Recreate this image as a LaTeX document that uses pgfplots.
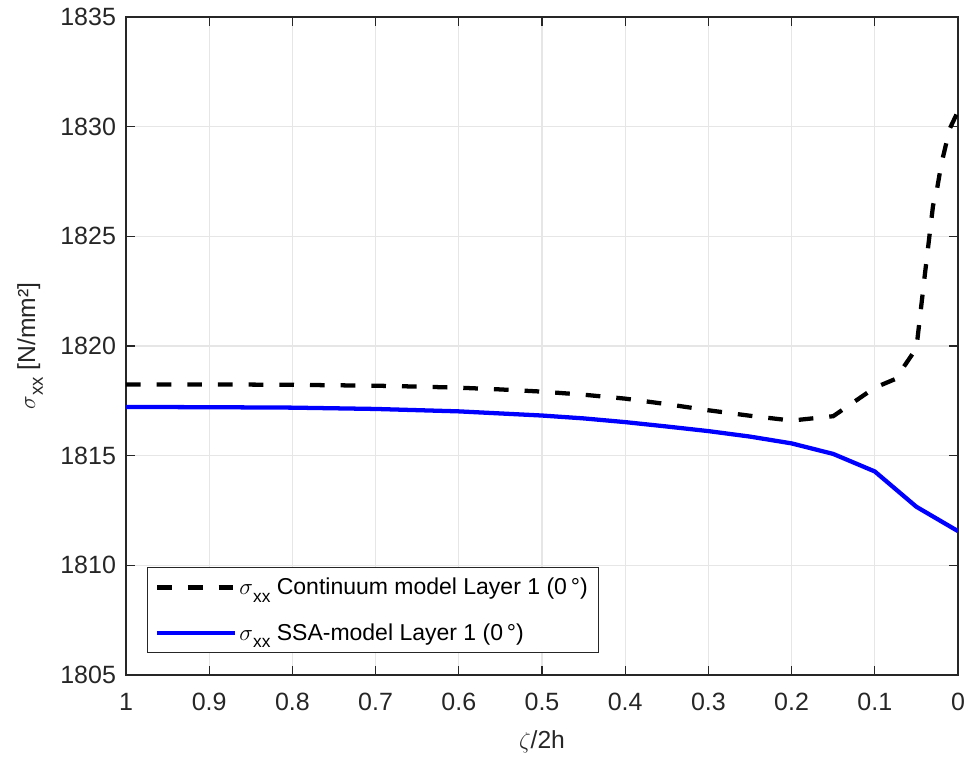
\documentclass[border=0pt]{standalone}
\usepackage{amsmath}
\usepackage{fontspec}
\setmainfont{Liberation Sans}
\usepackage{pgfplots}
\pgfplotsset{compat=1.18}
\definecolor{axgray}{HTML}{262626}
\definecolor{gridgray}{HTML}{E6E6E6}
\newcommand{\sxx}[1]{$\sigma$\raisebox{-0.6ex}{\fontsize{#1}{#1}\selectfont xx}}
\begin{document}
\begin{tikzpicture}
\useasboundingbox (-94.5pt,-62.25pt) rectangle (630.75pt,506.25pt);
\begin{axis}[
  scale only axis,
  width=624pt, height=493.5pt,
  x dir=reverse,
  xmin=0, xmax=1, ymin=1805, ymax=1835,
  xtick={0,0.1,...,1}, ytick={1805,1810,...,1835},
  grid=major,
  major grid style={gridgray, line width=0.8pt},
  axis line style={axgray, line width=0.8pt},
  tick style={axgray, line width=0.8pt},
  major tick length=6.5pt,
  tick align=inside,
  xtick pos=both, ytick pos=both,
  /pgf/number format/assume math mode=true,
  /pgf/number format/1000 sep={},
  tick label style={font=\fontsize{18.75}{21}\selectfont, text=axgray},
  xticklabel style={yshift=-10pt},
  yticklabel style={xshift=-4pt},
  xlabel={$\zeta$/2h},
  ylabel={\sxx{14} [N/mm²]},
  label style={font=\fontsize{18.5}{21}\selectfont, text=axgray},
  xlabel style={at={(axis description cs:0.5,-0.102)}, anchor=center},
  ylabel style={at={(axis description cs:-0.1154,0.5)}, anchor=center},
  legend style={at={(0.025,0.033)}, anchor=south west, draw=axgray, line width=0.6pt,
    font=\fontsize{17.25}{20}\selectfont, text=black, inner sep=6pt, row sep=16pt},
  legend cell align=left,
  legend image code/.code={\draw[#1] (0pt,0pt) -- (58pt,0pt);},
]
\addplot[black, line width=3.2pt, dash pattern=on 11pt off 12pt] coordinates {
(1.00,1818.25) (0.95,1818.25) (0.90,1818.25) (0.85,1818.24) (0.80,1818.23)
(0.75,1818.21) (0.70,1818.19) (0.65,1818.15) (0.60,1818.10) (0.55,1818.02)
(0.50,1817.92) (0.45,1817.78) (0.40,1817.60) (0.35,1817.35) (0.30,1817.07)
(0.25,1816.82) (0.20,1816.60) (0.15,1816.80) (0.10,1818.10) (0.075,1818.50)
(0.05,1819.90) (0.04,1823.2) (0.03,1826.4) (0.025,1827.2) (0.02,1828.3)
(0.01,1829.9) (0.00,1830.7)
};
\addlegendentry{\sxx{13} Continuum model Layer 1 (0\,°)}
\addplot[blue, line width=3.2pt] coordinates {
(1.00,1817.22) (0.90,1817.21) (0.80,1817.19) (0.70,1817.13) (0.60,1817.02)
(0.50,1816.83) (0.45,1816.70) (0.40,1816.53) (0.35,1816.33) (0.30,1816.12)
(0.25,1815.87) (0.20,1815.56) (0.15,1815.08) (0.10,1814.28) (0.05,1812.67)
(0.00,1811.56)
};
\addlegendentry{\sxx{13} SSA-model Layer 1 (0\,°)}
\end{axis}
\end{tikzpicture}
\end{document}
